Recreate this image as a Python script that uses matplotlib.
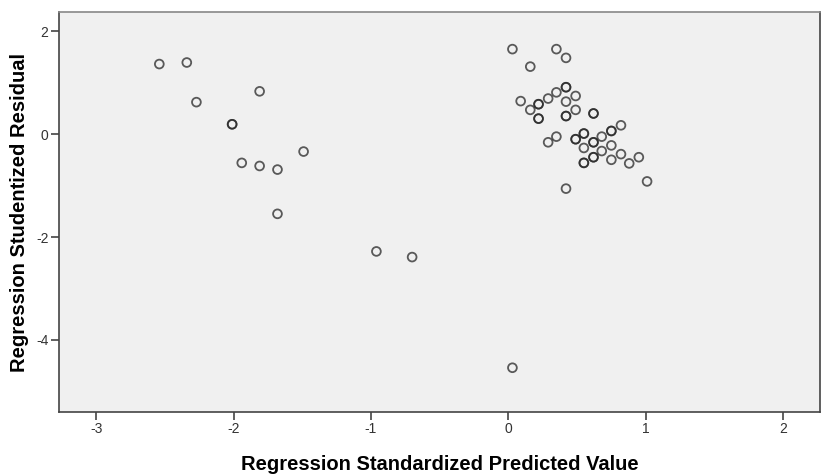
import matplotlib
matplotlib.use("Agg")
import matplotlib.pyplot as plt

plt.rcParams['font.family'] = ['Liberation Sans', 'DejaVu Sans']

# Regression Standardized Predicted Value (x) vs Studentized Residual (y)
pred = [-2.54, -2.34, -2.27, -1.81, -2.01, -2.01, -1.49, -1.94, -1.81, -1.68,
        -1.68, -0.96, -0.70, 0.03,
        0.03, 0.35, 0.42, 0.16, 0.42, 0.42, 0.35, 0.49, 0.29, 0.09,
        0.22, 0.22, 0.42, 0.16, 0.49, 0.22, 0.22, 0.42, 0.42, 0.62, 0.62,
        0.82, 0.75, 0.75, 0.68, 0.35, 0.29, 0.55, 0.55, 0.49, 0.49,
        0.62, 0.62, 0.55, 0.75, 0.68, 0.62, 0.62, 0.82, 0.75, 0.55, 0.55,
        0.95, 0.88, 1.01, 0.42]
resid = [1.36, 1.39, 0.62, 0.83, 0.19, 0.19, -0.34, -0.56, -0.62, -0.69,
         -1.55, -2.28, -2.39, -4.54,
         1.65, 1.65, 1.48, 1.31, 0.91, 0.91, 0.81, 0.74, 0.69, 0.64,
         0.58, 0.58, 0.63, 0.47, 0.47, 0.30, 0.30, 0.35, 0.35, 0.40, 0.40,
         0.17, 0.06, 0.06, -0.05, -0.05, -0.16, 0.01, 0.01, -0.10, -0.10,
         -0.16, -0.16, -0.27, -0.22, -0.33, -0.45, -0.45, -0.39, -0.50, -0.56, -0.56,
         -0.45, -0.57, -0.92, -1.06]

xticks = [-3, -2, -1, 0, 1, 2]
yticks = [2, 0, -2, -4]

fig = plt.figure(figsize=(8.22, 4.75), dpi=100)
ax = fig.add_axes([0.0718, 0.1326, 0.926, 0.842])
ax.set_facecolor('#f0f0f0')

ax.scatter(pred, resid, s=40, facecolors='none',
           edgecolors=(0.15, 0.15, 0.15, 0.75), linewidths=1.3, zorder=3)

ax.set_xlim(-3.27, 2.27)
ax.set_ylim(-5.40, 2.37)
ax.set_xticks(xticks)
ax.set_yticks(yticks)
ax.set_xticklabels([str(t) for t in xticks])
ax.set_yticklabels([str(t) for t in yticks])
ax.tick_params(axis='both', direction='out', length=6, width=1.2,
               color='#444444', labelsize=10, labelcolor='#333333', pad=1.5)

for side in ['left', 'bottom', 'right', 'top']:
    ax.spines[side].set_color('#444444')
    ax.spines[side].set_linewidth(1.2)
ax.spines['top'].set_color('#888888')

ax.set_xlabel('Regression Standardized Predicted Value', fontsize=14.5,
              fontweight='bold', labelpad=13.5)
ax.set_ylabel('Regression Studentized Residual', fontsize=14.5,
              fontweight='bold', labelpad=5)

fig.savefig('out.png', dpi=100)
